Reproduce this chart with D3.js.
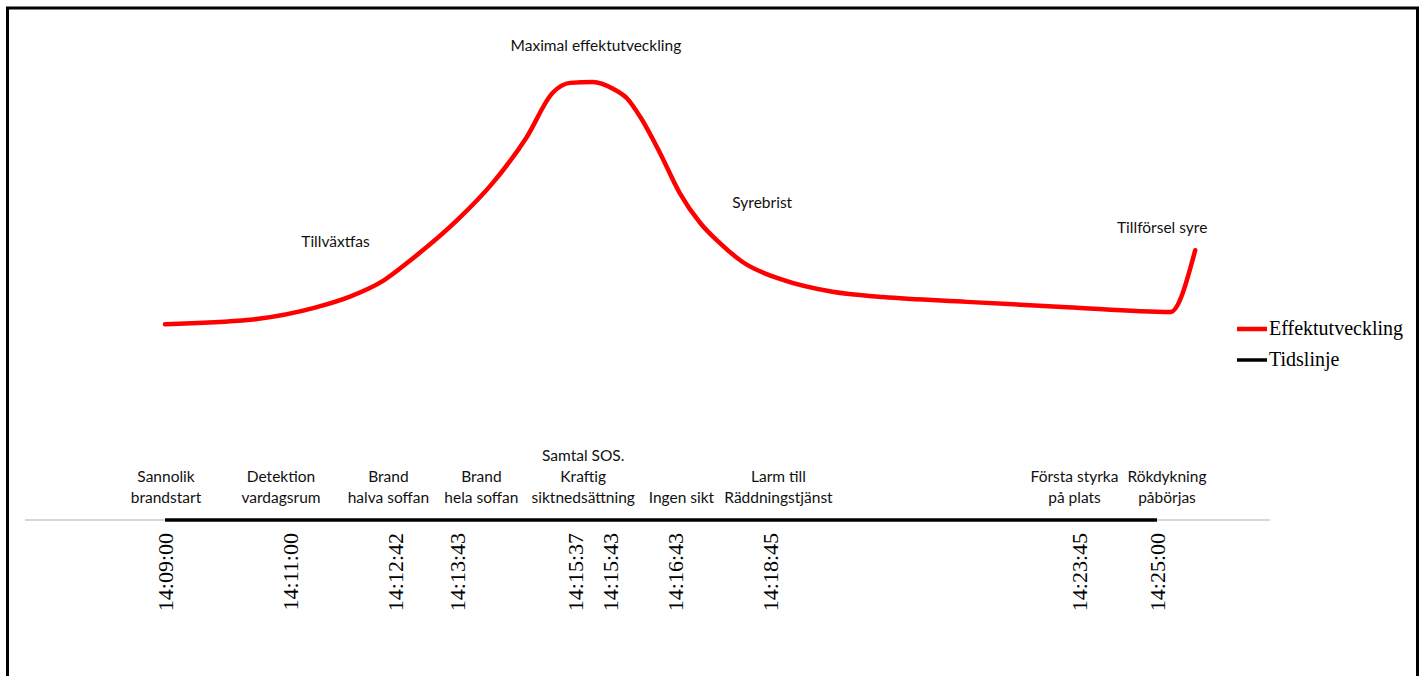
<!DOCTYPE html>
<html>
<head>
<meta charset="utf-8">
<script src="https://cdn.jsdelivr.net/npm/d3@7"></script>
<style>
    body { margin: 0; background: #fff; }
</style>
</head>
<body>
<svg id="canvas"></svg>
<script>
const parseTime = d3.timeParse("%H:%M:%S");

// Effektutveckling (relative, peak = 100)
const effektTimes = ["14:09:00", "14:10:22", "14:11:27", "14:11:59", "14:12:31", "14:12:57", "14:13:43", "14:14:17",
    "14:14:50", "14:15:15", "14:15:32", "14:15:54", "14:16:14", "14:16:27", "14:16:40", "14:16:59",
    "14:17:18", "14:17:38", "14:17:57", "14:18:19", "14:18:58", "14:19:46", "14:20:35", "14:21:56",
    "14:23:33", "14:25:13", "14:25:37"];
const effektValues = [44.7, 45.7, 48.6, 51.0, 54.6, 59.2, 68.5, 76.9,
    87.4, 97.5, 99.8, 100, 98.4, 96.3, 92.0, 83.8,
    74.7, 67.8, 63.2, 58.9, 54.8, 52.1, 50.9, 49.8,
    48.6, 47.5, 61.6];

// Tidslinje
const eventTimes = ["14:09:00", "14:11:00", "14:12:42", "14:13:43", "14:15:37", "14:15:43",
    "14:16:43", "14:18:45", "14:23:45", "14:25:00"];
const eventLabels = [
    ["Sannolik", "brandstart"],
    ["Detektion", "vardagsrum"],
    ["Brand", "halva soffan"],
    ["Brand", "hela soffan"],
    ["Samtal SOS.", "Kraftig", "siktnedsättning"],
    [],
    ["Ingen sikt"],
    ["Larm till", "Räddningstjänst"],
    ["Första styrka", "på plats"],
    ["Rökdykning", "påbörjas"]
];

// phase notes on the curve
const phaseLabels = ["Tillväxtfas", "Maximal effektutveckling", "Syrebrist", "Tillförsel syre"];
const phaseTimes = ["14:11:45", "14:15:57", "14:18:38", "14:25:05"];
const phaseValues = [63.5, 108.4, 72.4, 66.7];

const seriesNames = ["Effektutveckling", "Tidslinje"];
const seriesColors = ["#ff0000", "#000000"];

// label nudges (px), like dragged labels in the original
const tickNudge = [0, 1, 1, 0, 0, 29, 32, 1, 0, 0];
const labelNudge = [1, -8, -6, 24, 8, 0, 38, 9, -5, 10];

const width = 1427,
    height = 676;

const svg = d3.select("#canvas")
    .attr("width", width)
    .attr("height", height)
    .style("display", "block");

const sans = "Lato, 'Open Sans', sans-serif";
const serif = "'Liberation Serif', 'Times New Roman', serif";

// frame
svg.append("rect")
    .attr("x", 7.5).attr("y", 8)
    .attr("width", 1410).attr("height", 700)
    .attr("fill", "none")
    .attr("stroke", "#000")
    .attr("stroke-width", 3);

const scaleX = d3.scaleTime()
    .domain([parseTime(eventTimes[0]), parseTime(eventTimes[eventTimes.length - 1])])
    .range([165, 1157]);
const scaleY = d3.scaleLinear()
    .domain([0, 100])
    .range([520, 82]);

const effekt = effektTimes.map((t, i) => ({ date: parseTime(t), value: effektValues[i] }));
const events = eventTimes.map((t, i) => ({ date: parseTime(t), lines: eventLabels[i], i: i }));

// horizontal axis line
svg.append("line")
    .attr("x1", 25).attr("x2", 1270)
    .attr("y1", scaleY(0)).attr("y2", scaleY(0))
    .attr("stroke", "#b0b0b0")
    .attr("stroke-width", 1.2);

// timeline series
const lineGen = d3.line()
    .x(d => scaleX(d.date))
    .y(d => scaleY(d.value));

svg.append("path")
    .attr("fill", "none")
    .attr("stroke", seriesColors[1])
    .attr("stroke-width", 3.5)
    .attr("d", lineGen(events.map(d => ({ date: d.date, value: 0 }))));

// effect curve (smoothed)
svg.append("path")
    .attr("fill", "none")
    .attr("stroke", seriesColors[0])
    .attr("stroke-width", 4.5)
    .attr("stroke-linecap", "round")
    .attr("stroke-linejoin", "round")
    .attr("d", lineGen.curve(d3.curveMonotoneX)(effekt));

// time labels, rotated
svg.append("g").selectAll("text")
    .data(events)
    .join("text")
    .attr("transform", d => `translate(${scaleX(d.date) + tickNudge[d.i]}, 533) rotate(-90)`)
    .attr("text-anchor", "end")
    .attr("dy", "0.35em")
    .attr("font-family", serif)
    .attr("font-size", 22)
    .attr("fill", "#000")
    .text(d => d3.timeFormat("%H:%M:%S")(d.date));

// event labels above the line
const evGroups = svg.append("g").selectAll("text")
    .data(events)
    .join("text")
    .attr("text-anchor", "middle")
    .attr("font-family", sans)
    .attr("font-size", 15.5)
    .attr("fill", "#111");
evGroups.selectAll("tspan")
    .data(d => d.lines.map((s, k) => ({ s: s, k: k, n: d.lines.length, x: scaleX(d.date) + labelNudge[d.i] })))
    .join("tspan")
    .attr("x", d => d.x)
    .attr("y", d => 503 - (d.n - 1 - d.k) * 21)
    .text(d => d.s);

// phase notes
svg.append("g").selectAll("text")
    .data(phaseLabels)
    .join("text")
    .attr("x", (d, i) => scaleX(parseTime(phaseTimes[i])))
    .attr("y", (d, i) => scaleY(phaseValues[i]))
    .attr("dy", "0.35em")
    .attr("text-anchor", "middle")
    .attr("font-family", sans)
    .attr("font-size", 15.5)
    .attr("fill", "#111")
    .text(d => d);

// legend
const legend = svg.append("g").attr("transform", "translate(1237, 329)");
const legendItem = legend.selectAll("g")
    .data(seriesNames)
    .join("g")
    .attr("transform", (d, i) => `translate(0, ${i * 31})`);
legendItem.append("line")
    .attr("x1", 0).attr("x2", 30)
    .attr("stroke", (d, i) => seriesColors[i])
    .attr("stroke-width", (d, i) => i === 0 ? 4.5 : 3.5);
legendItem.append("text")
    .attr("x", 32)
    .attr("dy", "0.32em")
    .attr("font-family", serif)
    .attr("font-size", 20)
    .attr("fill", "#000")
    .text(d => d);
</script>
</body>
</html>
